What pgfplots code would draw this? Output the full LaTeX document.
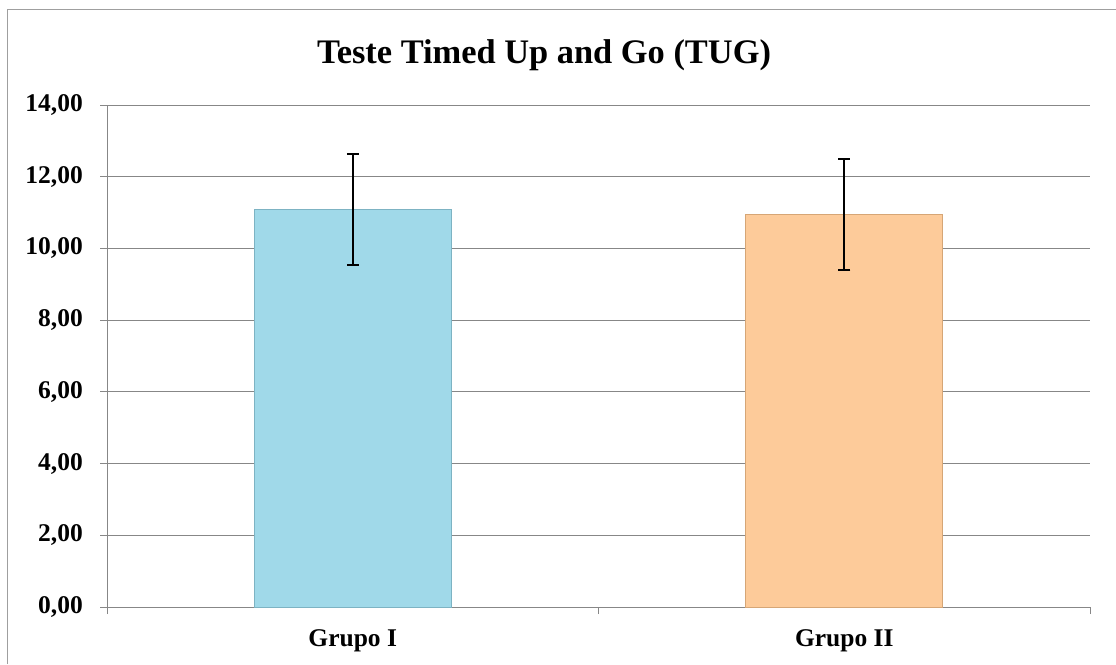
\documentclass[border=0pt]{standalone}
\usepackage{fontspec}
\setmainfont{Liberation Serif}
\usepackage{pgfplots}
\pgfplotsset{compat=1.18}
\definecolor{gridgray}{HTML}{878787}
\definecolor{barblue}{HTML}{A0D9E9}
\definecolor{barblueedge}{HTML}{7DB3C3}
\definecolor{barorange}{HTML}{FDCB9A}
\definecolor{barorangeedge}{HTML}{D6A676}
\begin{document}
\begin{tikzpicture}[x=1pt,y=1pt]
\useasboundingbox (0,0) rectangle (1116,-664);
\draw[gridgray!80, line width=1pt] (7,-664) -- (7,-9) -- (1116,-9);
\node[anchor=base, font=\fontsize{34.4}{40}\selectfont\bfseries] at (544,-63) {Teste Timed Up and Go (TUG)};
\begin{axis}[
  at={(107pt,-607pt)}, anchor=south west,
  scale only axis, width=983pt, height=502pt,
  xmin=0, xmax=2, ymin=0, ymax=14,
  axis lines=left,
  axis line style={gridgray, line width=1pt, -},
  ytick={0,2,...,14},
  ymajorgrids, grid style={gridgray, line width=1pt},
  tick style={gridgray, line width=1pt},
  tick align=outside, major tick length=7pt,
  xtick={0,1,2}, xticklabels={},
  extra x ticks={0.5,1.5},
  extra x tick labels={Grupo I,Grupo II},
  extra x tick style={major tick length=0pt, grid=none,
    xticklabel style={yshift=-19pt}},
  ticklabel style={font=\fontsize{25.5}{28}\selectfont\bfseries, text=black},
  yticklabel style={inner sep=0pt, xshift=-17pt,
    /pgf/number format/.cd, fixed, fixed zerofill, precision=2, use comma, assume math mode=true},
  clip=false,
]
\addplot[ybar, bar width=197pt, bar shift=0pt, fill=barblue, draw=barblueedge, line width=1pt,
  error bars/.cd, y dir=both, y explicit,
  error bar style={black, line width=1.8pt},
  error mark options={rotate=90, mark size=6pt, line width=1.8pt, black}]
  coordinates {(0.5,11.08) +- (0,1.55)};
\addplot[ybar, bar width=197pt, bar shift=0pt, fill=barorange, draw=barorangeedge, line width=1pt,
  error bars/.cd, y dir=both, y explicit,
  error bar style={black, line width=1.8pt},
  error mark options={rotate=90, mark size=6pt, line width=1.8pt, black}]
  coordinates {(1.5,10.94) +- (0,1.55)};
\end{axis}
\end{tikzpicture}
\end{document}
